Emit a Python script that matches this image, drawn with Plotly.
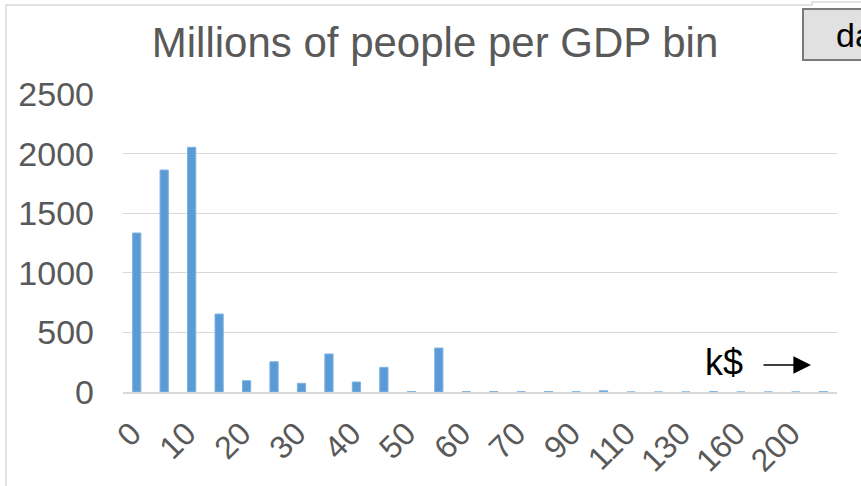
import plotly.graph_objects as go

categories = ["0", "5", "10", "15", "20", "25", "30", "35", "40", "45", "50", "55", "60", "65",
              "70", "80", "90", "100", "110", "120", "130", "145", "160", "180", "200", "250"]
people_millions = [1334, 1862, 2053, 654, 95, 254, 73, 319, 84, 207, 3, 369, 3, 4,
                   2, 4, 2, 10, 0, 0, 0, 3, 0, 0, 0, 3]
x_tick_labels = ["0", "10", "20", "30", "40", "50", "60", "70", "90", "110", "130", "160", "200"]
y_ticks = [0, 500, 1000, 1500, 2000, 2500]

FONT = "Liberation Sans, Arial, sans-serif"
GREY = "#595959"

# plot area in pixels: x 123..837, y 94..392
def px(x):
    return (x - 123) / 714


def py(y):
    return (392 - y) / 298


fig = go.Figure()
fig.add_trace(go.Bar(
    x=categories, y=people_millions,
    marker=dict(color="#5B9BD5", line=dict(color="#7FB2E0", width=1)),
    width=0.3,
))

border = (f"M {px(6)},{py(500)} L {px(6)},{py(5)} L {px(812)},{py(5)} "
          f"L {px(812)},{py(2)} L {px(880)},{py(2)}")

fig.update_layout(
    width=861, height=486,
    margin=dict(l=123, r=24, t=94, b=94),
    paper_bgcolor="white", plot_bgcolor="white",
    showlegend=False,
    title=dict(text="Millions of people per GDP bin", x=435 / 861, xanchor="center",
               y=1 - 42 / 486, yanchor="middle",
               font=dict(family=FONT, size=42, color=GREY)),
    xaxis=dict(type="category", categoryorder="array", categoryarray=categories,
               tickmode="array", tickvals=x_tick_labels, ticktext=x_tick_labels,
               tickangle=-45, tickfont=dict(family=FONT, size=32, color=GREY),
               showgrid=False, showline=True, linecolor="#D9D9D9", linewidth=2,
               ticks="", range=[-0.5, 25.5], automargin=False, ticklabelstandoff=8,
               ticklabelshift=-5),
    yaxis=dict(range=[0, 2500], tickvals=y_ticks,
               tickfont=dict(family=FONT, size=34, color=GREY),
               gridcolor="#D9D9D9", gridwidth=1, zeroline=False,
               showline=False, ticks="", automargin=False, ticklabelstandoff=28),
    shapes=[
        dict(type="path", xref="paper", yref="paper", path=border,
             line=dict(color="#D9D9D9", width=1.5), layer="below"),
    ],
    annotations=[
        dict(text="k$", xref="paper", yref="paper", x=px(724), y=py(362),
             xanchor="center", yanchor="middle", showarrow=False,
             font=dict(family=FONT, size=36, color="black")),
        dict(text="", xref="paper", yref="paper", x=px(811), y=py(365),
             ax=-49, ay=0, showarrow=True, arrowhead=2, arrowsize=2.2, arrowwidth=1.6,
             arrowcolor="black", standoff=0),
        dict(text="da", xref="paper", yref="paper", x=px(802), y=py(34),
             xanchor="left", yanchor="middle", showarrow=False,
             font=dict(family=FONT, size=34, color="black"),
             bgcolor="#E1E1E1", bordercolor="#7A7A7A", borderwidth=2,
             borderpad=2, width=98, height=45, align="center"),
    ],
)

fig.write_html("out.html", config={"displayModeBar": False},
               post_script="document.body.style.margin='0';")
